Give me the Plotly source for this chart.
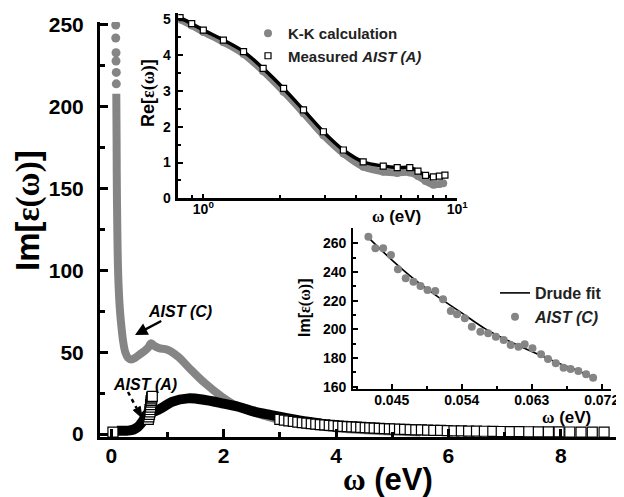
import plotly.graph_objects as go

# ---------------- main panel: Im[eps(w)] vs w (eV) ----------------
# AIST (C) - gray
C_top_w = [0.080, 0.080, 0.085, 0.085, 0.090, 0.090]
C_top_v = [250, 242, 233, 228, 221, 214]
C_w = [0.090, 0.095, 0.10, 0.11, 0.125, 0.15, 0.18, 0.21, 0.25, 0.30, 0.36, 0.42, 0.50, 0.60,
       0.66, 0.71, 0.76, 0.85, 1.0, 1.2, 1.37, 1.67, 1.97, 2.26, 2.68, 3.15, 3.6, 4.0, 4.5,
       5.0, 5.5]
C_v = [208, 180, 150, 120, 96, 78, 66, 57, 50, 46.5, 45.5, 46.5, 48.5, 51,
       53, 55.5, 54, 52.5, 51.5, 47, 41, 31, 22.8, 16.7, 11.6, 7.5, 5.0, 3.5, 2.3,
       1.5, 1.0]

# AIST (A) - black / open squares
A_first_w = [0.03]
A_first_v = [1.2]
A_w = [0.10, 0.20, 0.30, 0.40, 0.47, 0.53, 0.58, 0.63, 0.70, 0.78, 0.90, 1.08, 1.37, 1.67,
       1.97, 2.26, 2.56, 2.85, 3.15, 3.50, 3.80]
A_v = [2.0, 2.0, 2.1, 2.8, 4.2, 6.5, 9.0, 12.0, 13.0, 14.0, 16.0, 19.7, 21.8, 20.8,
       18.8, 16.7, 13.6, 11.6, 9.6, 7.5, 6.0]
A_jump_w = [0.66, 0.67, 0.68, 0.69, 0.69, 0.70, 0.70, 0.71, 0.71, 0.72, 0.72, 0.73]
A_jump_v = [9.0, 10.5, 12.0, 13.5, 15.0, 16.5, 18.0, 19.5, 20.5, 21.5, 22.5, 23.0]
A_sq_w = [3.0, 3.08, 3.16, 3.24, 3.32, 3.4, 3.48, 3.56, 3.64, 3.72, 3.8, 3.88, 3.96, 4.04,
          4.12, 4.2, 4.28, 4.36, 4.44, 4.52, 4.6, 4.68, 4.77, 4.86, 4.95, 5.04, 5.13, 5.22,
          5.32, 5.42, 5.52, 5.63, 5.74, 5.86, 5.98, 6.1, 6.23, 6.36, 6.5, 6.64, 6.79, 6.94,
          7.1, 7.26, 7.43, 7.6, 7.78, 7.97, 8.16, 8.36, 8.56, 8.77]
A_sq_v = [9.0, 8.5, 8.1, 7.7, 7.3, 7.0, 6.7, 6.4, 6.1, 5.8, 5.6, 5.3, 5.1, 4.9,
          4.7, 4.5, 4.35, 4.2, 4.05, 3.9, 3.8, 3.65, 3.5, 3.35, 3.2, 3.1, 2.95, 2.85,
          2.7, 2.6, 2.5, 2.4, 2.3, 2.2, 2.1, 2.0, 1.9, 1.85, 1.75, 1.7, 1.6, 1.55,
          1.5, 1.45, 1.4, 1.35, 1.3, 1.3, 1.25, 1.2, 1.2, 1.15]

main_xticks = [0, 2, 4, 6, 8]
main_yticks = [0, 50, 100, 150, 200, 250]

# ---------------- inset 1: Re[eps(w)] (log w) ----------------
KK_w = [0.81, 0.9, 1.0, 1.2, 1.44, 1.72, 2.07, 2.48, 2.97, 3.56, 4.26, 5.11, 5.8, 6.5, 7.0,
        7.5, 8.05, 8.5, 8.8]
KK_v = [5.0, 4.83, 4.65, 4.36, 4.03, 3.55, 2.98, 2.38, 1.76, 1.25, 0.88, 0.74, 0.71, 0.72, 0.62,
        0.48, 0.38, 0.40, 0.42]
Meas_w = [0.81, 0.9, 1.0, 1.2, 1.44, 1.72, 2.07, 2.48, 2.97, 3.56, 4.26, 5.11, 5.8, 6.5, 7.0,
          7.5, 8.05, 8.5, 8.94]
Meas_v = [5.05, 4.88, 4.70, 4.42, 4.10, 3.63, 3.07, 2.47, 1.86, 1.35, 1.02, 0.90, 0.86, 0.86, 0.76,
          0.64, 0.60, 0.62, 0.65]
in1_yticks = [0, 1, 2, 3, 4, 5]
in1_xticks = [1, 10]
in1_xticktext = ["10<sup>0</sup>", "10<sup>1</sup>"]
in1_xminor = [0.9, 2, 3, 4, 5, 6, 7, 8, 9]

# ---------------- inset 2: Drude fit of AIST (C) ----------------
D_w = [0.0420, 0.0429, 0.0439, 0.0449, 0.0458, 0.0468, 0.0478, 0.0487, 0.0496, 0.0506, 0.0516,
       0.0526, 0.0534, 0.0544, 0.0553, 0.0564, 0.0574, 0.0584, 0.0594, 0.0603, 0.0613, 0.0621,
       0.0631, 0.0642, 0.0651, 0.0661, 0.0671, 0.0680, 0.0690, 0.0700, 0.0709]
D_v = [264.6, 256.5, 256.5, 251.8, 241.9, 235.6, 233.2, 230.2, 227.5, 226.8, 221.0,
       212.8, 210.5, 207.7, 201.9, 198.4, 197.3, 194.9, 192.6, 189.1, 187.9, 189.6,
       186.8, 182.6, 179.4, 176.4, 173.3, 172.4, 171.0, 168.7, 166.3]
fit_w = [0.0420, 0.045, 0.048, 0.051, 0.054, 0.057, 0.060, 0.063, 0.066, 0.069, 0.0709]
fit_v = [264.0, 248.5, 234.5, 222.5, 211.5, 200.5, 192.0, 184.5, 177.5, 171.0, 166.4]
in2_xticks = [0.045, 0.054, 0.063, 0.072]
in2_xticktext = ["0.045", "0.054", "0.063", "0.072"]
in2_yticks = [160, 180, 200, 220, 240, 260]

GRAY = "#858585"
W, H = 624, 497
OFF = 8  # the page body margin offsets the figure by 8 px
def px(x): return (x - OFF) / W
def py(y): return 1 - (y - OFF) / H

# picture pixel -> main-axis data (for annotation marks only)
X0, XS = 100 + 0.2 / 9.2 * 517, 517 / 9.2
Y0, YS = 437 - 1.8 * (415 / 253.6), 415 / 253.6
def dx(p): return (p - X0) / XS
def dy(p): return (Y0 - p) / YS

fig = go.Figure()

# main panel
fig.add_trace(go.Scatter(x=C_w, y=C_v, mode="lines", line=dict(color=GRAY, width=8, shape="spline"),
                         showlegend=False, xaxis="x", yaxis="y"))
fig.add_trace(go.Scatter(x=C_top_w, y=C_top_v, mode="markers",
                         marker=dict(color=GRAY, size=9, symbol="circle"),
                         showlegend=False, xaxis="x", yaxis="y"))
fig.add_trace(go.Scatter(x=A_w, y=A_v, mode="lines", line=dict(color="black", width=10, shape="spline"),
                         showlegend=False, xaxis="x", yaxis="y"))
sq = dict(symbol="square", size=10, color="white", line=dict(color="black", width=1.2))
fig.add_trace(go.Scatter(x=A_jump_w, y=A_jump_v, mode="markers", marker=sq,
                         showlegend=False, xaxis="x", yaxis="y"))
fig.add_trace(go.Scatter(x=A_sq_w, y=A_sq_v, mode="markers", marker=sq,
                         showlegend=False, xaxis="x", yaxis="y"))
fig.add_trace(go.Scatter(x=A_first_w, y=A_first_v, mode="markers", marker=sq,
                         showlegend=False, xaxis="x", yaxis="y"))

# inset 1
fig.add_trace(go.Scatter(x=KK_w, y=KK_v, mode="lines", line=dict(color=GRAY, width=7, shape="spline"),
                         showlegend=False, xaxis="x2", yaxis="y2"))
fig.add_trace(go.Scatter(x=KK_w, y=KK_v, mode="markers", name="K-K calculation",
                         marker=dict(color=GRAY, size=8), legend="legend",
                         xaxis="x2", yaxis="y2"))
fig.add_trace(go.Scatter(x=Meas_w, y=Meas_v, mode="lines", line=dict(color="black", width=3.5, shape="spline"),
                         showlegend=False, xaxis="x2", yaxis="y2"))
fig.add_trace(go.Scatter(x=Meas_w, y=Meas_v, mode="markers", name="Measured <i>AIST (A)</i>",
                         marker=dict(symbol="square", size=6, color="white", line=dict(color="black", width=1.2)),
                         legend="legend", xaxis="x2", yaxis="y2"))

# inset 2
fig.add_trace(go.Scatter(x=fit_w, y=fit_v, mode="lines", name="Drude fit",
                         line=dict(color="black", width=1.6, shape="spline"),
                         legend="legend2", xaxis="x3", yaxis="y3"))
fig.add_trace(go.Scatter(x=D_w, y=D_v, mode="markers", name="<i>AIST (C)</i>",
                         marker=dict(color=GRAY, size=8), legend="legend2",
                         xaxis="x3", yaxis="y3"))

FONT = "Liberation Sans, Arial, sans-serif"

def axstyle(lw, tl, tw, fs, standoff):
    return dict(showline=True, linecolor="black", linewidth=lw, ticks="inside", ticklen=tl,
                tickwidth=tw, tickcolor="black", showgrid=False, zeroline=False, automargin=False,
                tickfont=dict(family=FONT, size=fs, color="black", weight="bold"),
                ticklabelstandoff=standoff)

fig.update_layout(
    template="none",
    width=W, height=H, margin=dict(l=0, r=0, t=0, b=0, pad=0),
    paper_bgcolor="white", plot_bgcolor="rgba(0,0,0,0)",
    xaxis=dict(domain=[px(100), px(617)], range=[-0.2, 9.0], anchor="y",
               tickvals=main_xticks,
               minor=dict(ticks="inside", ticklen=5, tickwidth=2.5, tickcolor="black", dtick=1, tick0=0),
               **axstyle(3, 8, 2.5, 21, -2)),
    yaxis=dict(domain=[py(437), py(22)], range=[-1.8, 251.8], anchor="x",
               tickvals=main_yticks,
               minor=dict(ticks="inside", ticklen=5, tickwidth=2.5, tickcolor="black", dtick=25, tick0=0),
               **axstyle(3, 8, 2.5, 21, 9)),
    xaxis2=dict(domain=[px(178.3), px(457.3)], type="log", range=[-0.0985, 1.0], anchor="y2",
                tickvals=in1_xticks, ticktext=in1_xticktext,
                minor=dict(ticks="inside", ticklen=4, tickwidth=1.5, tickcolor="black",
                           tickmode="array", tickvals=in1_xminor),
                **axstyle(2.5, 5, 1.8, 14, -4)),
    yaxis2=dict(domain=[py(198.3), py(13.3)], range=[0, 5.17], anchor="x2",
                tickvals=in1_yticks,
                minor=dict(ticks="inside", ticklen=3, tickwidth=1.5, tickcolor="black", dtick=0.5, tick0=0),
                **axstyle(2.5, 5, 1.8, 14, 2)),
    xaxis3=dict(domain=[px(353.3), px(611)], range=[0.04006, 0.0732], anchor="y3",
                tickvals=in2_xticks, ticktext=in2_xticktext,
                minor=dict(ticks="inside", ticklen=3, tickwidth=1.5, tickcolor="black", dtick=0.0045, tick0=0.045),
                **axstyle(2.2, 5, 1.8, 14, -3)),
    yaxis3=dict(domain=[py(389.3), py(228.3)], range=[158.2, 270.5], anchor="x3",
                tickvals=in2_yticks,
                minor=dict(ticks="inside", ticklen=3, tickwidth=1.5, tickcolor="black", dtick=10, tick0=160),
                **axstyle(2.2, 5, 1.8, 14, 2)),
    legend=dict(x=px(248), y=py(17), xanchor="left", yanchor="top", bgcolor="rgba(0,0,0,0)",
                font=dict(family=FONT, size=15, color="#222", weight="bold"), itemwidth=30,
                tracegroupgap=0),
    legend2=dict(x=px(495), y=py(276), xanchor="left", yanchor="top", bgcolor="rgba(0,0,0,0)",
                 font=dict(family=FONT, size=16, color="#222", weight="bold"), itemwidth=30,
                 tracegroupgap=0),
)

ann = []
def title(text, x, y, size, angle=0):
    ann.append(dict(text=text, x=px(x), y=py(y), xref="paper", yref="paper", showarrow=False,
                    textangle=angle, xanchor="center", yanchor="middle",
                    font=dict(family=FONT, size=size, color="black", weight="bold")))

title("Im[<span style='font-family:Liberation Serif'>ε(ω)</span>]", 28, 211, 33, -90)
title("<span style='font-family:Liberation Serif'>ω</span> (eV)", 388, 479, 31)
title("<span style='font-family:Liberation Serif'>ω</span> (eV)", 396, 216, 17)
title("Re[<span style='font-family:Liberation Serif'>ε(ω)</span>]", 148, 93, 18, -90)
title("<span style='font-family:Liberation Serif'>ω</span> (eV)", 566, 417, 17)
title("Im[<span style='font-family:Liberation Serif'>ε(ω)</span>]", 305, 308, 16, -90)

lab = dict(family=FONT, size=16, color="black", weight="bold")
# AIST (C) label with its solid arrow
ann.append(dict(text="<i>AIST (C)</i>", x=dx(135), y=dy(335), xref="x", yref="y", showarrow=True,
                ax=45, ay=-24, arrowhead=2, arrowsize=1, arrowwidth=2.5, arrowcolor="black", font=lab))
# AIST (A) label (dashed arrow drawn as shapes)
ann.append(dict(text="<i>AIST (A)</i>", x=dx(145), y=dy(384), xref="x", yref="y", showarrow=False, font=lab))
fig.update_layout(annotations=ann)

fig.add_shape(type="line", x0=dx(128), y0=dy(392), x1=dx(136.5), y1=dy(408),
              xref="x", yref="y", line=dict(color="black", width=2.5, dash="4px,4px"))
fig.add_shape(type="path", xref="x", yref="y",
              path=f"M {dx(142)},{dy(418)} L {dx(133.3)},{dy(410.2)} L {dx(140.3)},{dy(406.4)} Z",
              fillcolor="black", line=dict(color="black", width=1))

fig.write_html("out.html")
